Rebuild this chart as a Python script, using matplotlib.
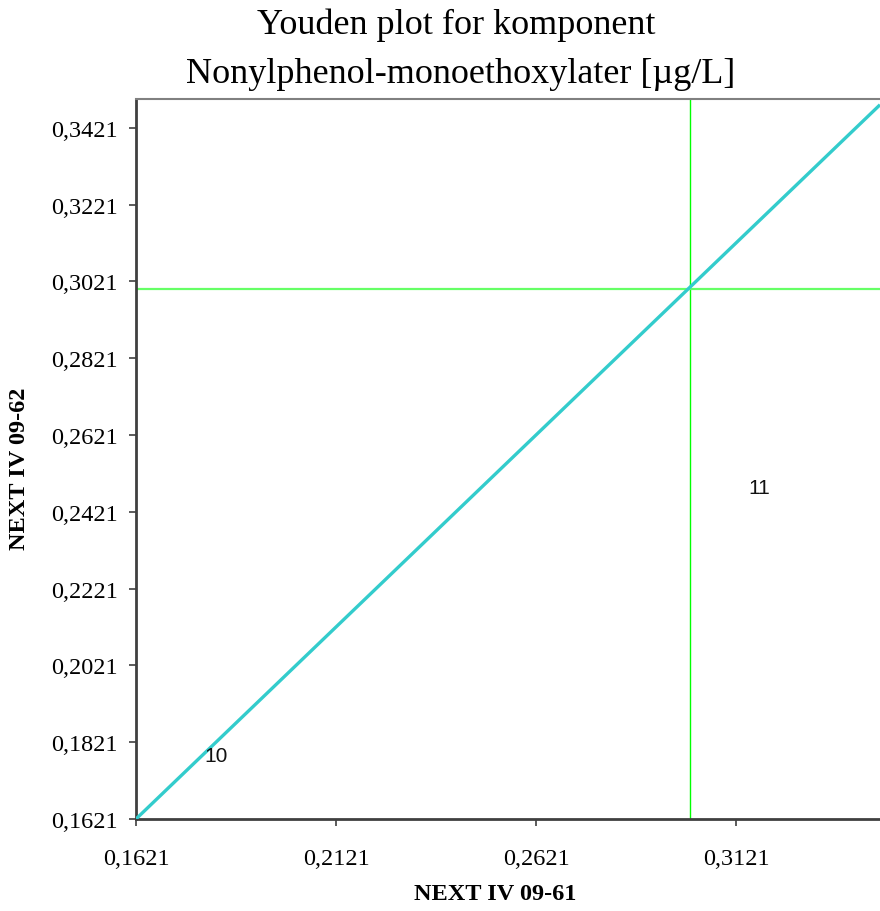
import numpy as np
import matplotlib
matplotlib.use('Agg')
from matplotlib import pyplot as plt
from matplotlib.ticker import FuncFormatter

# akser og tick-verdier
xticks = [0.1621, 0.2121, 0.2621, 0.3121]
yticks = [0.1621, 0.1821, 0.2021, 0.2221, 0.2421, 0.2621, 0.2821, 0.3021, 0.3221, 0.3421]
xlim = (0.1621, 0.3481)
ylim = (0.1621, 0.3496)

# laboratorier (punkt-etiketter)
lab_names = ['10', '11']
lab_x = [0.1821, 0.3179]
lab_y = [0.1787, 0.2484]

# tildelte verdier (gronne linjer)
ref_x = 0.3005
ref_y = 0.3000

# diagonal y = x
diag = [0.1621, 0.3481]


def komma(v, pos):
    return ('%.4f' % v).replace('.', ',')


def main():
    fig = plt.figure(figsize=(8.8, 9.12), dpi=100)
    ax = fig.add_axes([136 / 880, 92 / 912, 744 / 880, 720 / 912])

    ax.plot(diag, diag, color='#33cccc', lw=2.4, solid_capstyle='butt', zorder=3)
    ax.axvline(ref_x, color='#00ff00', lw=1.0, zorder=2)
    ax.axhline(ref_y, color='#66ff66', lw=1.6, zorder=2)

    for n, x, y in zip(lab_names, lab_x, lab_y):
        ax.text(x, y, n, ha='center', va='center', fontsize=15,
                family='Liberation Sans', color='#111111', zorder=4)

    ax.set_xlim(*xlim)
    ax.set_ylim(*ylim)
    ax.set_xticks(xticks)
    ax.set_yticks(yticks)
    ax.xaxis.set_major_formatter(FuncFormatter(komma))
    ax.yaxis.set_major_formatter(FuncFormatter(komma))

    for lbl in ax.get_xticklabels() + ax.get_yticklabels():
        lbl.set_family('Liberation Serif')
        lbl.set_fontsize(17.5)
    ax.tick_params(axis='y', direction='out', length=5, width=1.2,
                   color='#404040', pad=8)
    ax.tick_params(axis='x', direction='out', length=5, width=1.2,
                   color='#404040', pad=16)

    ax.spines['right'].set_visible(False)
    ax.spines['top'].set_color('#808080')
    ax.spines['top'].set_linewidth(1.5)
    for s in ('left', 'bottom'):
        ax.spines[s].set_color('#404040')
        ax.spines[s].set_linewidth(2)

    ax.set_xlabel('NEXT IV 09-61', family='Liberation Serif', fontsize=17.5,
                  fontweight='bold', va='center')
    ax.xaxis.set_label_coords(0.4825, -0.104)
    ax.set_ylabel('NEXT IV 09-62', family='Liberation Serif', fontsize=17.5,
                  fontweight='bold', va='center')
    ax.yaxis.set_label_coords(-0.156, 0.4875)

    fig.text(0.519, 0.972, 'Youden plot for komponent', ha='center', va='center',
             family='Liberation Serif', fontsize=26)
    fig.text(0.523, 0.918, 'Nonylphenol-monoethoxylater [\u00b5g/L]', ha='center',
             va='center', family='Liberation Serif', fontsize=26)

    plt.savefig('out.png', dpi=100)


if __name__ == '__main__':
    main()
